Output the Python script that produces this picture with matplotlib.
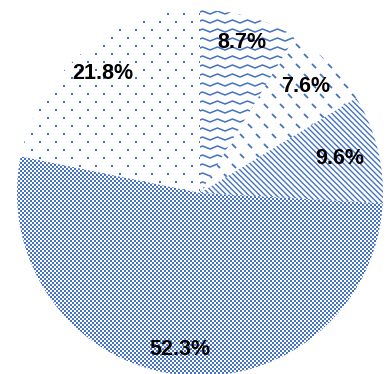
import numpy as np
import matplotlib
matplotlib.use("Agg")
import matplotlib.pyplot as plt

# shares, clockwise from 12 o'clock
labels = ['8.7%', '7.6%', '9.6%', '52.3%', '21.8%']
shares = [8.7, 7.6, 9.6, 52.3, 21.8]
textures = ['zigzag', 'dashes', 'diag', 'checker', 'dots']

blue = '#4472C4'
W, H = 392, 374
cx, cy, R = 200, 181, 183

fig = plt.figure(figsize=(W / 100, H / 100), dpi=100)
ax = fig.add_axes([0, 0, 1, 1])

wedges, _ = ax.pie(shares, startangle=90, counterclock=False,
                   center=(cx, cy), radius=R, frame=True,
                   wedgeprops=dict(facecolor='white', edgecolor='none', linewidth=0))
ax.set_xlim(0, W)
ax.set_ylim(0, H)
ax.axis('off')


def add_texture(kind, wedge):
    arts = []
    if kind == 'checker':
        img = np.indices((H // 2 + 1, W // 2 + 1)).sum(axis=0) % 2
        rgba = np.ones(img.shape + (4,))
        rgba[img == 1] = matplotlib.colors.to_rgba(blue)
        arts.append(ax.imshow(rgba, extent=(0, (W // 2 + 1) * 2, 0, (H // 2 + 1) * 2),
                              interpolation='nearest', origin='lower', zorder=2, aspect='auto'))
    elif kind == 'dots':
        xs, ys = [], []
        for j, y in enumerate(np.arange(0.5, H, 8)):
            off = 8 if j % 2 else 0
            for x in np.arange(off + 0.5, W, 16):
                xs.append(x)
                ys.append(y)
        arts.append(ax.scatter(xs, ys, s=4, marker='s', color=blue, linewidths=0,
                               antialiased=False, zorder=2))
    elif kind == 'zigzag':
        x = np.arange(0, W + 16, 7.5)
        for y in np.arange(0, H, 9):
            yy = y + np.where(np.round(x / 7.5) % 2 == 0, 0, 3)
            arts.append(ax.plot(x, yy, color=blue, lw=1.1, zorder=2)[0])
    elif kind == 'diag':
        for b in np.arange(-W, H + W, 5.5):
            arts.append(ax.plot([0, W], [b, b - W], color=blue, lw=1.0, zorder=2)[0])
    elif kind == 'dashes':
        for j, y in enumerate(np.arange(0, H, 10)):
            off = 8 if j % 2 else 0
            for x in np.arange(off, W, 16):
                arts.append(ax.plot([x, x + 4], [y, y - 4], color=blue, lw=1.3,
                                    solid_capstyle='butt', zorder=2)[0])
    for a in arts:
        a.set_clip_path(wedge)


for kind, w in zip(textures, wedges):
    add_texture(kind, w)

ax.set_xlim(0, W)
ax.set_ylim(0, H)

# label positions along the wedge bisectors
radii = [0.855, 0.82, 0.785, 0.86, 0.84]
ang = 90 - np.cumsum([0] + shares[:-1]) * 3.6 - np.array(shares) * 1.8
for lab, a, r in zip(labels, ang, radii):
    t = np.deg2rad(a)
    ax.text(cx + r * R * np.cos(t), cy + r * R * np.sin(t), lab,
            ha='center', va='center', fontsize=15.5, fontweight='bold',
            family='Liberation Sans', color='black', zorder=5)

fig.savefig('out.png', dpi=100)
